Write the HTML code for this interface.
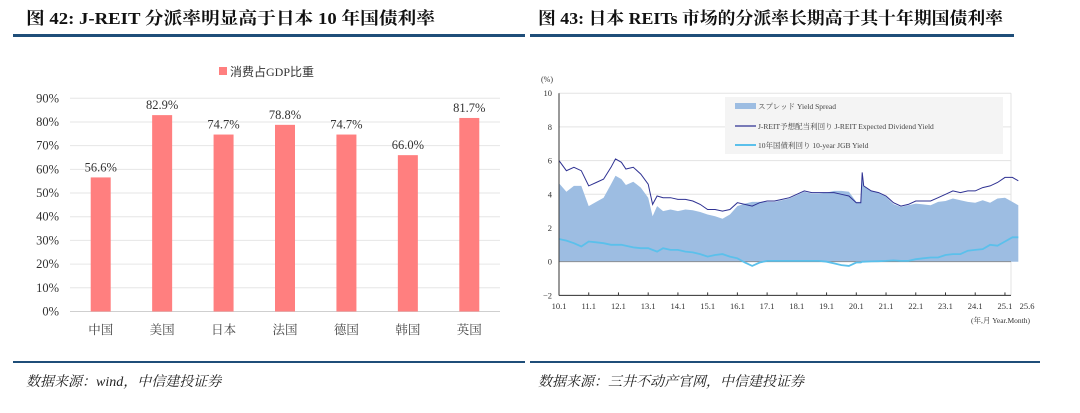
<!DOCTYPE html>
<html><head><meta charset="utf-8">
<style>
html,body{margin:0;padding:0;background:#fff;}
svg{display:block;font-family:"Liberation Serif","Noto Serif CJK SC",serif;}
</style></head>
<body>
<svg id="root" width="1080" height="413" viewBox="0 0 1080 413" xmlns="http://www.w3.org/2000/svg">
  <g>
    <text x="26" y="24" font-size="17" font-weight="bold" fill="#111" textLength="409" lengthAdjust="spacingAndGlyphs">图 42: J-REIT 分派率明显高于日本 10 年国债利率</text>
    <rect x="13" y="34" width="512" height="3" fill="#1f4e79"/>
    <rect x="219" y="67" width="8" height="8" fill="#ff7f7f"/>
    <text x="230" y="76" font-size="12" fill="#333" font-family="Liberation Serif,'Noto Sans CJK SC',serif">消费占GDP比重</text>
    <g id="leftChart"></g>
    <rect x="13" y="361" width="512" height="2" fill="#1f4e79"/>
    <text x="26" y="386" font-size="14" font-style="italic" fill="#222">数据来源：wind，中信建投证券</text>
  </g>
  <g>
    <text x="538" y="24" font-size="17" font-weight="bold" fill="#111" textLength="465" lengthAdjust="spacingAndGlyphs">图 43:  日本 REITs 市场的分派率长期高于其十年期国债利率</text>
    <rect x="530" y="34" width="484" height="3" fill="#1f4e79"/>
    <g id="rightChart"></g>
    <rect x="530" y="361" width="510" height="2" fill="#1f4e79"/>
    <text x="538" y="386" font-size="14" font-style="italic" fill="#222">数据来源：三井不动产官网，中信建投证券</text>
  </g>
</svg>
<script>
const NS='http://www.w3.org/2000/svg';
// ---- left chart data ----
const barCategories=['中国','美国','日本','法国','德国','韩国','英国'];
const barValues=[56.6,82.9,74.7,78.8,74.7,66.0,81.7];
const barTicks=[0,10,20,30,40,50,60,70,80,90];
// ---- right chart data ----
const yrTimes=[10.0,10.25,10.5,10.75,11.0,11.25,11.5,11.75,11.9,12.1,12.25,12.5,12.75,13.0,13.15,13.3,13.5,13.75,14.0,14.25,14.5,14.75,15.0,15.25,15.5,15.75,16.0,16.25,16.5,16.75,17.0,17.25,17.5,17.75,18.0,18.25,18.5,18.75,19.0,19.25,19.5,19.75,20.0,20.15,20.2,20.25,20.5,20.75,21.0,21.25,21.5,21.75,22.0,22.25,22.5,22.75,23.0,23.25,23.5,23.75,24.0,24.25,24.5,24.75,25.0,25.25,25.45];
const divYield=[6.0,5.4,5.6,5.4,4.5,4.7,4.9,5.6,6.1,5.9,5.5,5.6,5.2,4.6,3.4,3.9,3.8,3.8,3.7,3.7,3.6,3.4,3.1,3.1,3.0,3.1,3.5,3.4,3.3,3.5,3.6,3.6,3.7,3.8,4.0,4.2,4.1,4.1,4.1,4.1,4.0,3.9,3.5,3.5,5.3,4.5,4.2,4.1,3.9,3.5,3.3,3.4,3.6,3.6,3.6,3.8,4.0,4.2,4.1,4.2,4.2,4.4,4.5,4.7,5.0,5.0,4.8];
const jgbYield=[1.35,1.25,1.1,0.9,1.2,1.15,1.1,1.0,1.0,1.0,0.95,0.85,0.8,0.8,0.7,0.6,0.8,0.7,0.7,0.6,0.55,0.45,0.3,0.4,0.45,0.3,0.2,-0.05,-0.25,-0.05,0.05,0.05,0.05,0.05,0.05,0.05,0.05,0.05,0.0,-0.1,-0.2,-0.25,-0.05,-0.05,0.0,0.0,0.02,0.03,0.05,0.08,0.05,0.05,0.15,0.2,0.25,0.25,0.4,0.45,0.45,0.65,0.7,0.75,1.0,0.95,1.2,1.45,1.45];
const yTicks=[-2,0,2,4,6,8,10];
const xTickLabels=['10.1','11.1','12.1','13.1','14.1','15.1','16.1','17.1','18.1','19.1','20.1','21.1','22.1','23.1','24.1','25.1'];
const xTickYears=[10,11,12,13,14,15,16,17,18,19,20,21,22,23,24,25];

function el(tag,attrs,parent){const e=document.createElementNS(NS,tag);for(const k in attrs)e.setAttribute(k,attrs[k]);parent.appendChild(e);return e;}

// left
(function(){
  const g=document.getElementById('leftChart');
  const x0=70,x1=500,yb=311.5,yt=98.3;
  const ys=v=>yb-(v/90)*(yb-yt);
  const band=(x1-x0)/barCategories.length;
  const xc=i=>x0+band*(i+0.5);
  barTicks.forEach(t=>{
    const ln=el('line',{x1:x0,x2:x1,y1:ys(t),y2:ys(t),stroke:t===0?'#cfcfcf':'#e6e6e6','stroke-width':1},g);
    
    
    const tx=el('text',{x:59,y:ys(t)+4,'font-size':12.5,'text-anchor':'end',fill:'#333'},g);
    tx.textContent=t+'%';
    
    
  });
  barValues.forEach((v,i)=>{
    const r=el('rect',{x:xc(i)-10,y:ys(v),width:20,height:yb-ys(v),fill:'#ff7f7f'},g);
    
    
    const lb=el('text',{x:xc(i),y:ys(v)-6,'font-size':12.5,'text-anchor':'middle',fill:'#333'},g);
    lb.textContent=v.toFixed(1)+'%';
    
    
    const cl=el('text',{x:xc(i),y:334,'font-size':12.5,'text-anchor':'middle',fill:'#444'},g);
    cl.textContent=barCategories[i];
    
    
  });
})();

// right
(function(){
  const g=document.getElementById('rightChart');
  const px0=559,px1=1011,y0=261.7,unit=16.85,perYr=29.73;
  const xs=t=>px0+(t-10)*perYr;
  const ys=v=>y0-v*unit;
  yTicks.forEach(t=>{
    if(t!==0){const ln=el('line',{x1:px0,x2:px1,y1:ys(t),y2:ys(t),stroke:'#e3e3e3','stroke-width':1},g);
    
    }
    const tx=el('text',{x:552,y:ys(t)+3,'font-size':8.5,'text-anchor':'end',fill:'#333'},g);
    tx.textContent=t<0?'−'+Math.abs(t):t;
    
    
  });
  const pu=el('text',{x:541,y:82,'font-size':8,fill:'#333'},g);pu.textContent='(%)';
  
  
  const rb=el('line',{x1:px1,x2:px1,y1:ys(10),y2:ys(-2),stroke:'#e3e3e3'},g);
  
  
  let d='M'+xs(yrTimes[0])+','+y0;
  yrTimes.forEach((t,i)=>{d+=' L'+xs(t).toFixed(1)+','+ys(divYield[i]-jgbYield[i]).toFixed(1);});
  d+=' L'+xs(yrTimes[yrTimes.length-1])+','+y0+' Z';
  const ar=el('path',{d:d,fill:'#9dbde2'},g);
  
  
  const zl=el('line',{x1:px0,x2:px1,y1:y0,y2:y0,stroke:'#888','stroke-width':0.8},g);
  
  
  const mk=(arr,color,w,name)=>{
    const p=el('polyline',{points:yrTimes.map((t,i)=>xs(t).toFixed(1)+','+ys(arr[i]).toFixed(1)).join(' '),fill:'none',stroke:color,'stroke-width':w},g);
    
    
  };
  mk(jgbYield,'#5bc0eb',1.8,'jgb-yield-line');
  mk(divYield,'#2e3192',1,'dividend-yield-line');
  const ya=el('line',{x1:px0,x2:px0,y1:ys(10),y2:ys(-2),stroke:'#333','stroke-width':1},g);
  
  
  const xa=el('line',{x1:px0,x2:px1,y1:ys(-2),y2:ys(-2),stroke:'#333','stroke-width':1},g);
  
  
  xTickYears.forEach((t,i)=>{
    el('line',{x1:xs(t),x2:xs(t),y1:ys(-2),y2:ys(-2)-3,stroke:'#333'},g);
    const tx=el('text',{x:xs(t),y:309,'font-size':8.5,'text-anchor':'middle',fill:'#333'},g);
    tx.textContent=xTickLabels[i];
    
    
  });
  const e=el('text',{x:1027,y:309,'font-size':8.5,'text-anchor':'middle',fill:'#333'},g);e.textContent='25.6';
  
  
  const xu=el('text',{x:1030,y:323,'font-size':7.5,'text-anchor':'end',fill:'#333'},g);xu.textContent='(年,月 Year.Month)';
  
  
  const lg=el('g',{},g);
  
  
  el('rect',{x:725,y:97,width:278,height:57,fill:'#f4f4f4'},lg);
  el('rect',{x:735,y:103,width:21,height:6,fill:'#9dbde2'},lg);
  el('line',{x1:735,x2:756,y1:126,y2:126,stroke:'#2e3192','stroke-width':1.2},lg);
  el('line',{x1:735,x2:756,y1:145,y2:145,stroke:'#5bc0eb','stroke-width':2},lg);
  [['スプレッド Yield Spread',109],['J-REIT予想配当利回り J-REIT Expected Dividend Yield',129],['10年国債利回り 10-year JGB Yield',148]].forEach(([s,y])=>{
    const t=el('text',{x:758,y:y,'font-size':7.5,fill:'#444','font-family':"Liberation Serif,'Noto Serif CJK SC',serif"},lg);
    t.textContent=s;
    
    
  });
})();
</script>
</body></html>
